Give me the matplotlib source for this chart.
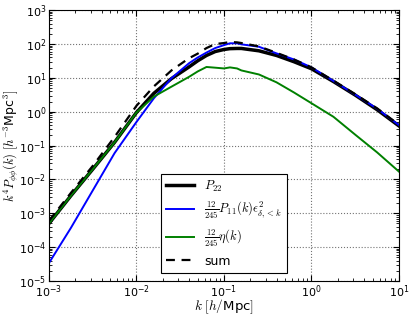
import numpy as np
import matplotlib
matplotlib.use("Agg")
import matplotlib.pyplot as plt

plt.rcParams['mathtext.fontset'] = 'cm'
plt.rcParams['font.family'] = ['DejaVu Sans']

# wavenumbers [h/Mpc]
k = [0.001, 0.00178, 0.00316, 0.00562, 0.01, 0.0158, 0.0251, 0.0398, 0.0501,
     0.0631, 0.0794, 0.1, 0.117, 0.141, 0.158, 0.251, 0.398, 0.631, 1.0,
     1.78, 3.16, 5.62, 10.0]

p22 = [5.0e-4, 3.3e-3, 2.0e-2, 0.125, 0.95, 3.5, 9.5, 21, 32,
       46, 60, 69, 73, 74, 74, 63, 46, 30, 18.6,
       7.8, 3.1, 1.15, 0.38]

p11_term = [3.4e-5, 3.7e-4, 4.7e-3, 0.060, 0.50, 2.5, 9.8, 27, 40,
            56, 76, 93, 105, 105, 98, 83, 53, 35, 20.4,
            8.1, 3.2, 1.23, 0.40]

eta_term = [5.0e-4, 3.3e-3, 2.0e-2, 0.125, 0.95, 2.8, 5.5, 10.7, 15.5,
            21, 20, 19, 20.4, 19, 16.6, 12.6, 7.4, 3.7, 1.78,
            0.71, 0.21, 0.063, 0.017]

total = [6.0e-4, 4.0e-3, 0.025, 0.18, 1.5, 5.6, 16.6, 38, 52,
         76, 100, 107, 115, 112, 107, 85, 55, 35, 20.4,
         8.3, 3.3, 1.26, 0.41]

labels = [r'$P_{22}$',
          r'$\frac{12}{245}P_{11}(k)\epsilon^2_{\delta,<k}$',
          r'$\frac{12}{245}\eta(k)$',
          'sum']

fig = plt.figure(figsize=(4.13, 3.16), dpi=100)
ax = fig.add_axes([0.1186, 0.1108, 0.8475, 0.857])

ax.loglog(k, p22, color='k', lw=2.5, label=labels[0])
ax.loglog(k, p11_term, color='b', lw=1.4, label=labels[1])
ax.loglog(k, eta_term, color=(0, 0.5, 0), lw=1.4, label=labels[2])
ax.loglog(k, total, color='k', lw=1.6, ls='--', dashes=(4, 3), label=labels[3])

ax.set_xlim(1e-3, 10)
ax.set_ylim(1e-5, 1e3)
ax.set_yticks([10.0**e for e in range(-5, 4)])
ax.set_xticks([10.0**e for e in range(-3, 2)])

ax.grid(True, which='major', color='0.45', ls=':', lw=0.8)
ax.tick_params(which='both', direction='in', top=True, right=True, labelsize=8)
ax.tick_params(which='major', length=4, pad=2)
ax.tick_params(which='minor', length=2)

ax.set_xlabel(r'$k\ [h/$Mpc$]$', fontsize=9.5)
ax.set_ylabel(r'$k^4 P_{\phi\phi}(k)\ [h^{-3}$Mpc$^3]$', fontsize=9)
ax.xaxis.label.set_verticalalignment('center')
ax.yaxis.label.set_verticalalignment('center')
ax.xaxis.set_label_coords(0.5, -0.096)
ax.yaxis.set_label_coords(-0.108, 0.5)

leg = ax.legend(loc='lower center', bbox_to_anchor=(0.5, 0.03), fontsize=9,
                fancybox=False, framealpha=1, edgecolor='k',
                handlelength=2.2, borderaxespad=0)
leg.get_frame().set_linewidth(0.8)

fig.savefig('out.png', dpi=100)
